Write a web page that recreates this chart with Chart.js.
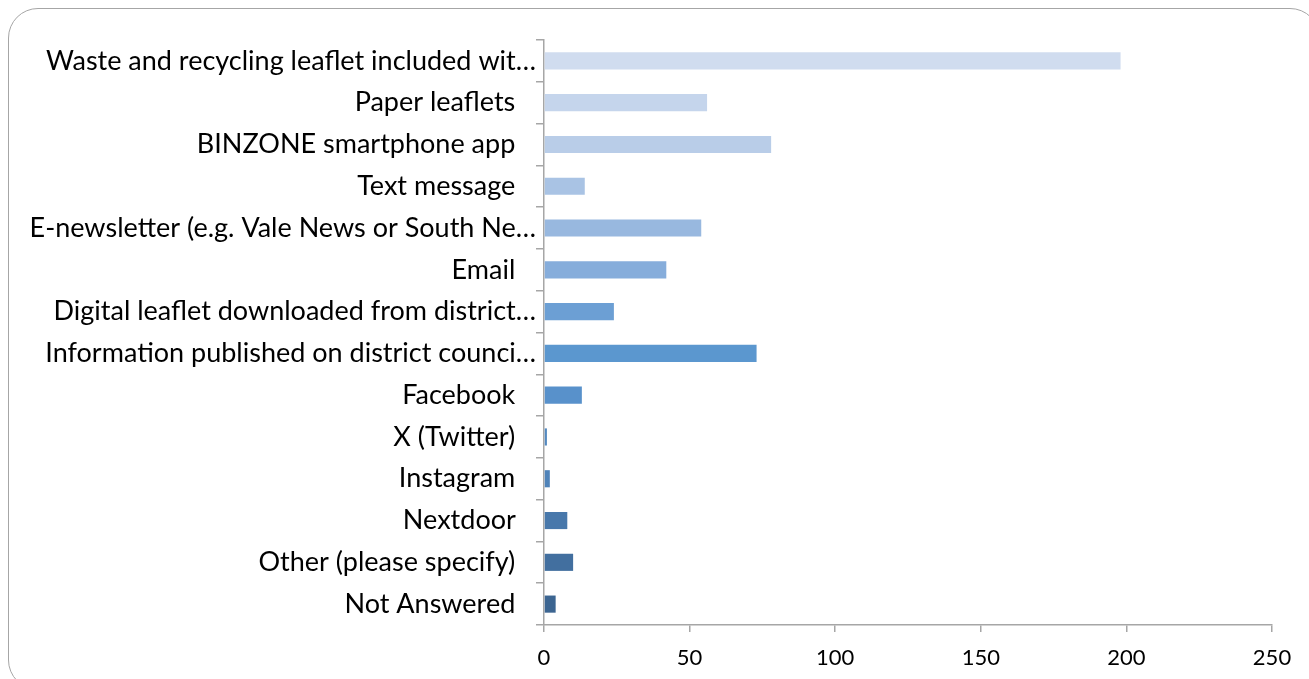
<!DOCTYPE html>
<html>
<head>
<meta charset="utf-8">
<title>How residents find out about waste and recycling</title>
<script src="https://cdn.jsdelivr.net/npm/chart.js@4/dist/chart.umd.min.js"></script>
<style>
    html, body { margin: 0; padding: 0; background: #fff; overflow: hidden; }
    #wrap { position: relative; width: 1309px; height: 679px; }
    #frame {
        position: absolute; left: 8px; top: 8px; width: 1312px; height: 682px;
        border: 1.5px solid #a6a6a6; border-radius: 30px; box-sizing: border-box;
    }
    #chart-sumber { position: absolute; left: 0; top: 0; }
</style>
</head>
<body>
<div id="wrap">
    <div id="frame"></div>
    <canvas id="chart-sumber" width="1309" height="679"></canvas>
</div>
<script>
// Kategori (label sudah terpotong seperti di grafik)
const kategori = [
    'Waste and recycling leaflet included wit\u2026',
    'Paper leaflets',
    'BINZONE smartphone app',
    'Text message',
    'E-newsletter (e.g. Vale News or South Ne\u2026',
    'Email',
    'Digital leaflet downloaded from district\u2026',
    'Information published on district counci\u2026',
    'Facebook',
    'X (Twitter)',
    'Instagram',
    'Nextdoor',
    'Other (please specify)',
    'Not Answered'
];

// Jumlah responden per kategori
const jumlah = [198, 56, 78, 14, 54, 42, 24, 73, 13, 1, 2, 8, 10, 4];

// Tick sumbu X
const tickX = [0, 50, 100, 150, 200, 250];

// Warna batang, dari biru muda ke biru tua
const warnaBatang = [
    '#d0dcef', '#c5d5ec', '#b9cde8', '#a9c3e4', '#98b8df', '#86addb', '#6c9fd4',
    '#5b97cf', '#5891cb', '#5389c0', '#4f83b9', '#4878ab', '#426f9f', '#3c6591'
];

const abuSumbu = '#a6a6a6';

const ctx = document.getElementById('chart-sumber').getContext('2d');
new Chart(ctx, {
    type: 'bar',
    data: {
        labels: kategori,
        datasets: [{
            data: jumlah,
            backgroundColor: warnaBatang,
            borderWidth: 0,
            barPercentage: 0.41,
            categoryPercentage: 1
        }]
    },
    options: {
        indexAxis: 'y',
        responsive: false,
        animation: false,
        layout: { padding: { left: 0, top: 40, right: 37, bottom: 0 } },
        plugins: {
            legend: { display: false },
            tooltip: { enabled: false }
        },
        scales: {
            y: {
                afterFit: s => { s.width = 544; },
                border: { color: abuSumbu, width: 1.5 },
                grid: { drawOnChartArea: false, color: abuSumbu, tickLength: 8, lineWidth: 1.5 },
                ticks: {
                    color: '#000',
                    padding: 0,
                    font: { family: 'Lato', size: 27 },
                    callback: function (v) {
                        const t = this.getLabelForValue(v);
                        // label utuh diberi jarak ekstra dari sumbu
                        return t.endsWith('\u2026') ? t : t + '\u00a0\u00a0\u00a0';
                    }
                }
            },
            x: {
                min: tickX[0],
                max: tickX[tickX.length - 1],
                afterFit: s => { s.height = 54; },
                afterBuildTicks: s => { s.ticks = tickX.map(v => ({ value: v })); },
                border: { color: abuSumbu, width: 1.5 },
                grid: { drawOnChartArea: false, color: abuSumbu, tickLength: 7, lineWidth: 1.5 },
                ticks: {
                    color: '#000',
                    padding: 13,
                    maxRotation: 0,
                    font: { family: 'Lato', size: 22 }
                }
            }
        }
    }
});
</script>
</body>
</html>
